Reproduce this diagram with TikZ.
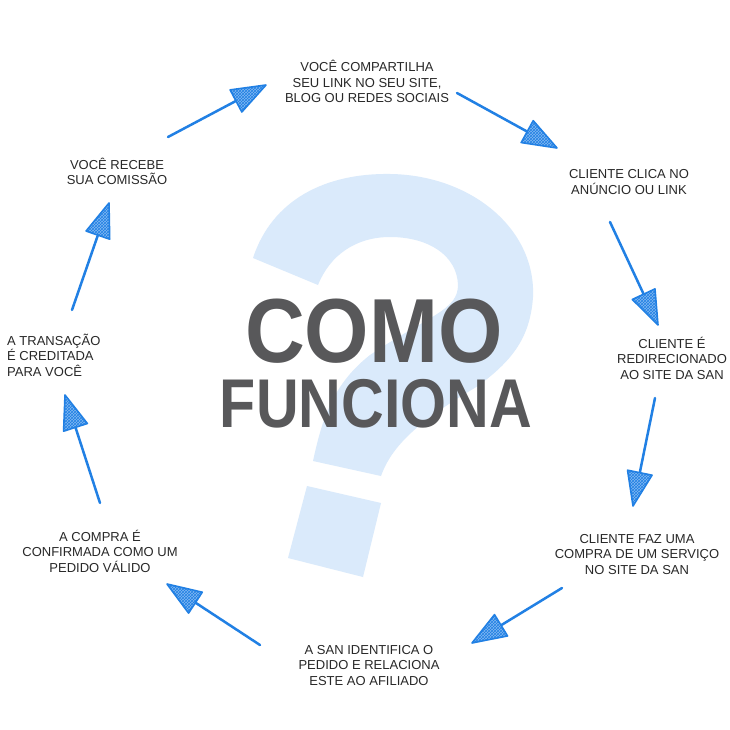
\documentclass[tikz,border=0pt]{standalone}
\usepackage{fontspec}
\setmainfont{Liberation Sans}
\usetikzlibrary{calc,patterns}
\definecolor{qblue}{RGB}{218,234,251}
\definecolor{arrblue}{RGB}{33,128,228}
\definecolor{headfill}{RGB}{130,185,242}
\definecolor{labelgray}{RGB}{40,40,40}
\definecolor{titlegray}{RGB}{88,88,90}
\tikzset{
  lbl/.style={font=\fontsize{13}{15.5}\selectfont, text=labelgray, align=center, inner sep=0pt, anchor=base},
  arrline/.style={draw=arrblue, line width=2.5pt, line cap=round},
  headstyle/.style={fill=headfill, draw=arrblue, line width=1.6pt, line join=round},
  headhatch/.style={pattern=crosshatch, pattern color=arrblue},
  titletext/.style={text=titlegray, inner sep=0pt, anchor=base}
}
\newcommand\skarrow[2]{%
  \coordinate (#2b) at ($(#2)!34pt!(#1)$);
  \draw[arrline] (#1) -- (#2b);
  \filldraw[headstyle] (#2) -- ($(#2b)!12.5pt!90:(#2)$) -- ($(#2b)!12.5pt!-90:(#2)$) -- cycle;
  \path[headhatch] (#2) -- ($(#2b)!12.5pt!90:(#2)$) -- ($(#2b)!12.5pt!-90:(#2)$) -- cycle;
}
\begin{document}
\begin{tikzpicture}[x=1pt, y=-1pt]
\useasboundingbox (0,0) rectangle (730,730);
\fill[white] (0,0) rectangle (730,730);

% question mark
\fill[qblue] (253,258) .. controls (272,200) and (325,173) .. (390,174)
 .. controls (470,175) and (536,228) .. (533,297)
 .. controls (530,340) and (510,362) .. (478,386)
 .. controls (420,420) and (392,445) .. (381,476)
 -- (313,461)
 .. controls (322,420) and (332,385) .. (370,355)
 .. controls (430,315) and (458,310) .. (458,285)
 .. controls (457,255) and (428,237) .. (390,237)
 .. controls (356,237) and (330,255) .. (318,285)
 -- cycle;
\fill[qblue] (307,486) -- (381,503) -- (363,577) -- (288,558) -- cycle;

% title
\node[titletext, font=\fontsize{91}{91}\selectfont\bfseries] (como) at (374,362) {\scalebox{0.91}[1]{COMO}};
\node[titletext, font=\fontsize{69}{69}\selectfont\bfseries] (func) at (376,427) {\scalebox{0.857}[1]{FUNCIONA}};

% labels (anchor = baseline of the last line)
\node[lbl] (l1) at (367,103) {VOCÊ COMPARTILHA\\SEU LINK NO SEU SITE,\\BLOG OU REDES SOCIAIS};
\node[lbl] (l2) at (629,194) {CLIENTE CLICA NO\\ANÚNCIO OU LINK};
\node[lbl] (l3) at (672,379) {CLIENTE É\\REDIRECIONADO\\AO SITE DA SAN};
\node[lbl] (l4) at (637,574) {CLIENTE FAZ UMA\\COMPRA DE UM SERVIÇO\\NO SITE DA SAN};
\node[lbl] (l5) at (369,685) {A SAN IDENTIFICA O\\PEDIDO E RELACIONA\\ESTE AO AFILIADO};
\node[lbl] (l6) at (100,572) {A COMPRA É\\CONFIRMADA COMO UM\\PEDIDO VÁLIDO};
\node[lbl, align=left, anchor=base west] (l7) at (7,376) {A TRANSAÇÃO\\É CREDITADA\\PARA VOCÊ};
\node[lbl] (l8) at (117,185) {VOCÊ RECEBE\\SUA COMISSÃO};

% arrow end points
\coordinate (a1s) at (168,137); \coordinate (a1t) at (266,85);
\coordinate (a2s) at (457,93);  \coordinate (a2t) at (557,148);
\coordinate (a3s) at (610,222); \coordinate (a3t) at (658,325);
\coordinate (a4s) at (655,398); \coordinate (a4t) at (633,506);
\coordinate (a5s) at (562,588); \coordinate (a5t) at (472,643);
\coordinate (a6s) at (260,645); \coordinate (a6t) at (167,584);
\coordinate (a7s) at (100,503); \coordinate (a7t) at (65,395);
\coordinate (a8s) at (72,310);  \coordinate (a8t) at (109,203);

\skarrow{a1s}{a1t}
\skarrow{a2s}{a2t}
\skarrow{a3s}{a3t}
\skarrow{a4s}{a4t}
\skarrow{a5s}{a5t}
\skarrow{a6s}{a6t}
\skarrow{a7s}{a7t}
\skarrow{a8s}{a8t}
\end{tikzpicture}
\end{document}
